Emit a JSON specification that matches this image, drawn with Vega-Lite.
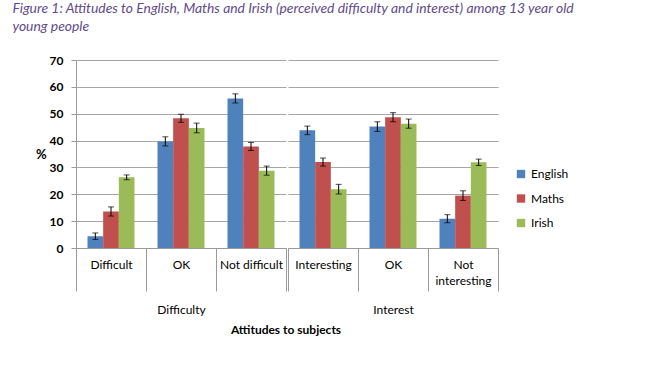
{
  "$schema": "https://vega.github.io/schema/vega-lite/v6.json",
  "padding": {"left": 12, "top": 2, "right": 5, "bottom": 5},
  "background": "white",
  "title": {
    "text": ["Figure 1: Attitudes to English, Maths and Irish (perceived difficulty and interest) among 13 year old", "young people"],
    "anchor": "start",
    "frame": "bounds",
    "dx": -23,
    "font": "Lato",
    "fontStyle": "italic",
    "fontWeight": "normal",
    "fontSize": 13.9,
    "lineHeight": 18,
    "color": "#5f4b8b",
    "offset": 20
  },
  "datasets": {
    "main": [
      {"group": "Difficulty", "cat": "Difficult", "subject": "English", "value": 4.4, "lo": 3.2, "hi": 5.6},
      {"group": "Difficulty", "cat": "Difficult", "subject": "Maths", "value": 13.6, "lo": 11.9, "hi": 15.3},
      {"group": "Difficulty", "cat": "Difficult", "subject": "Irish", "value": 26.3, "lo": 25.4, "hi": 27.2},
      {"group": "Difficulty", "cat": "OK", "subject": "English", "value": 39.7, "lo": 38.0, "hi": 41.4},
      {"group": "Difficulty", "cat": "OK", "subject": "Maths", "value": 48.3, "lo": 46.8, "hi": 49.8},
      {"group": "Difficulty", "cat": "OK", "subject": "Irish", "value": 44.7, "lo": 42.9, "hi": 46.5},
      {"group": "Difficulty", "cat": "Not difficult", "subject": "English", "value": 55.7, "lo": 54.0, "hi": 57.4},
      {"group": "Difficulty", "cat": "Not difficult", "subject": "Maths", "value": 37.8, "lo": 36.3, "hi": 39.3},
      {"group": "Difficulty", "cat": "Not difficult", "subject": "Irish", "value": 28.8, "lo": 27.1, "hi": 30.5},
      {"group": "Interest", "cat": "Interesting", "subject": "English", "value": 43.8, "lo": 42.2, "hi": 45.4},
      {"group": "Interest", "cat": "Interesting", "subject": "Maths", "value": 32.0, "lo": 30.5, "hi": 33.5},
      {"group": "Interest", "cat": "Interesting", "subject": "Irish", "value": 21.9, "lo": 20.1, "hi": 23.7},
      {"group": "Interest", "cat": "OK", "subject": "English", "value": 45.2, "lo": 43.4, "hi": 47.0},
      {"group": "Interest", "cat": "OK", "subject": "Maths", "value": 48.7, "lo": 47.0, "hi": 50.4},
      {"group": "Interest", "cat": "OK", "subject": "Irish", "value": 46.3, "lo": 44.6, "hi": 48.0},
      {"group": "Interest", "cat": "Not interesting", "subject": "English", "value": 10.9, "lo": 9.4, "hi": 12.4},
      {"group": "Interest", "cat": "Not interesting", "subject": "Maths", "value": 19.5, "lo": 17.7, "hi": 21.3},
      {"group": "Interest", "cat": "Not interesting", "subject": "Irish", "value": 31.9, "lo": 30.7, "hi": 33.1}
    ],
    "caption": [{"t": "Attitudes to subjects"}]
  },
  "vconcat": [
    {
      "hconcat": [
        {
          "data": {"name": "main"},
          "transform": [{"filter": "datum.group == 'Difficulty'"}],
          "width": 210,
          "height": 188,
          "encoding": {
            "x": {
              "field": "cat",
              "type": "nominal",
              "sort": ["Difficult", "OK", "Not difficult"],
              "title": "Difficulty",
              "scale": {"type": "band", "paddingInner": 0, "paddingOuter": 0},
              "axis": {
                "tickBand": "extent",
                "tickSize": 43,
                "labelPadding": -32,
                "labelAngle": 0,
                "labelFontSize": 12,
                "labelBaseline": "top",
                "labelLineHeight": 16,
                "labelOverlap": false,
                "titleFontSize": 12,
                "titleFontWeight": "normal",
                "titlePadding": 13,
                "grid": false
              }
            },
            "xOffset": {
              "field": "subject",
              "type": "nominal",
              "sort": ["English", "Maths", "Irish"],
              "scale": {"paddingInner": 0, "paddingOuter": 0.734}
            }
          },
          "layer": [
            {
              "mark": {"type": "bar"},
              "encoding": {
                "y": {
                  "field": "value",
                  "type": "quantitative",
                  "title": "%",
                  "scale": {"domain": [0, 70], "nice": false},
                  "axis": {
                    "values": [0, 10, 20, 30, 40, 50, 60, 70],
                    "tickCount": 10,
                    "labelOverlap": false,
                    "titleAngle": 0,
                    "titleAlign": "right",
                    "titleBaseline": "middle",
                    "titleFontSize": 13,
                    "titleFontWeight": "bold",
                    "titlePadding": 3,
                    "labelFontSize": 12,
                    "labelFontWeight": "bold",
                    "labelPadding": 8,
                    "tickSize": 5,
                    "grid": true
                  }
                },
                "color": {
                  "field": "subject",
                  "type": "nominal",
                  "scale": {"domain": ["English", "Maths", "Irish"], "range": ["#4f81bd", "#c0504d", "#9bbb59"]},
                  "legend": {
                    "title": null,
                    "orient": "none",
                    "legendX": 439,
                    "legendY": 108,
                    "symbolType": "square",
                    "symbolSize": 70,
                    "symbolStrokeWidth": 0,
                    "labelFont": "Lato",
                    "labelFontSize": 12,
                    "labelColor": "#000",
                    "rowPadding": 12.5
                  }
                }
              }
            },
            {
              "mark": {"type": "rule", "color": "#000", "strokeWidth": 1},
              "encoding": {
                "y": {
                  "field": "lo",
                  "type": "quantitative",
                  "title": "%",
                  "scale": {"domain": [0, 70], "nice": false},
                  "axis": {
                    "values": [0, 10, 20, 30, 40, 50, 60, 70],
                    "tickCount": 10,
                    "labelOverlap": false,
                    "titleAngle": 0,
                    "titleAlign": "right",
                    "titleBaseline": "middle",
                    "titleFontSize": 13,
                    "titleFontWeight": "bold",
                    "titlePadding": 3,
                    "labelFontSize": 12,
                    "labelFontWeight": "bold",
                    "labelPadding": 8,
                    "tickSize": 5,
                    "grid": true
                  }
                },
                "y2": {"field": "hi"}
              }
            },
            {
              "mark": {"type": "tick", "color": "#000", "thickness": 1, "size": 6},
              "encoding": {
                "y": {
                  "field": "lo",
                  "type": "quantitative",
                  "title": "%",
                  "scale": {"domain": [0, 70], "nice": false},
                  "axis": {
                    "values": [0, 10, 20, 30, 40, 50, 60, 70],
                    "tickCount": 10,
                    "labelOverlap": false,
                    "titleAngle": 0,
                    "titleAlign": "right",
                    "titleBaseline": "middle",
                    "titleFontSize": 13,
                    "titleFontWeight": "bold",
                    "titlePadding": 3,
                    "labelFontSize": 12,
                    "labelFontWeight": "bold",
                    "labelPadding": 8,
                    "tickSize": 5,
                    "grid": true
                  }
                }
              }
            },
            {
              "mark": {"type": "tick", "color": "#000", "thickness": 1, "size": 6},
              "encoding": {
                "y": {
                  "field": "hi",
                  "type": "quantitative",
                  "title": "%",
                  "scale": {"domain": [0, 70], "nice": false},
                  "axis": {
                    "values": [0, 10, 20, 30, 40, 50, 60, 70],
                    "tickCount": 10,
                    "labelOverlap": false,
                    "titleAngle": 0,
                    "titleAlign": "right",
                    "titleBaseline": "middle",
                    "titleFontSize": 13,
                    "titleFontWeight": "bold",
                    "titlePadding": 3,
                    "labelFontSize": 12,
                    "labelFontWeight": "bold",
                    "labelPadding": 8,
                    "tickSize": 5,
                    "grid": true
                  }
                }
              }
            }
          ]
        },
        {
          "data": {"name": "main"},
          "transform": [{"filter": "datum.group == 'Interest'"}],
          "width": 210,
          "height": 188,
          "encoding": {
            "x": {
              "field": "cat",
              "type": "nominal",
              "sort": ["Interesting", "OK", "Not interesting"],
              "title": "Interest",
              "scale": {"type": "band", "paddingInner": 0, "paddingOuter": 0},
              "axis": {
                "tickBand": "extent",
                "tickSize": 43,
                "labelPadding": -32,
                "labelAngle": 0,
                "labelFontSize": 12,
                "labelBaseline": "top",
                "labelLineHeight": 16,
                "labelOverlap": false,
                "labelExpr": "datum.label == 'Not interesting' ? ['Not', 'interesting'] : datum.label",
                "titleFontSize": 12,
                "titleFontWeight": "normal",
                "titlePadding": 13,
                "grid": false
              }
            },
            "xOffset": {
              "field": "subject",
              "type": "nominal",
              "sort": ["English", "Maths", "Irish"],
              "scale": {"paddingInner": 0, "paddingOuter": 0.734}
            }
          },
          "layer": [
            {
              "mark": {"type": "bar"},
              "encoding": {
                "y": {
                  "field": "value",
                  "type": "quantitative",
                  "title": null,
                  "scale": {"domain": [0, 70], "nice": false},
                  "axis": {"values": [0, 10, 20, 30, 40, 50, 60, 70], "tickCount": 10, "labels": false, "ticks": false, "domain": false, "grid": true}
                },
                "color": {
                  "field": "subject",
                  "type": "nominal",
                  "scale": {"domain": ["English", "Maths", "Irish"], "range": ["#4f81bd", "#c0504d", "#9bbb59"]}
                }
              }
            },
            {
              "mark": {"type": "rule", "color": "#000", "strokeWidth": 1},
              "encoding": {
                "y": {
                  "field": "lo",
                  "type": "quantitative",
                  "title": null,
                  "scale": {"domain": [0, 70], "nice": false},
                  "axis": {"values": [0, 10, 20, 30, 40, 50, 60, 70], "tickCount": 10, "labels": false, "ticks": false, "domain": false, "grid": true}
                },
                "y2": {"field": "hi"}
              }
            },
            {
              "mark": {"type": "tick", "color": "#000", "thickness": 1, "size": 6},
              "encoding": {
                "y": {
                  "field": "lo",
                  "type": "quantitative",
                  "title": null,
                  "scale": {"domain": [0, 70], "nice": false},
                  "axis": {"values": [0, 10, 20, 30, 40, 50, 60, 70], "tickCount": 10, "labels": false, "ticks": false, "domain": false, "grid": true}
                }
              }
            },
            {
              "mark": {"type": "tick", "color": "#000", "thickness": 1, "size": 6},
              "encoding": {
                "y": {
                  "field": "hi",
                  "type": "quantitative",
                  "title": null,
                  "scale": {"domain": [0, 70], "nice": false},
                  "axis": {"values": [0, 10, 20, 30, 40, 50, 60, 70], "tickCount": 10, "labels": false, "ticks": false, "domain": false, "grid": true}
                }
              }
            }
          ]
        }
      ],
      "spacing": 0,
      "resolve": {"scale": {"x": "independent", "xOffset": "independent"}}
    },
    {
      "data": {"name": "caption"},
      "width": 420,
      "height": 14,
      "mark": {"type": "text", "font": "Lato", "fontSize": 12, "fontWeight": "bold", "color": "#000"},
      "encoding": {"text": {"field": "t", "type": "nominal"}}
    }
  ],
  "spacing": 7,
  "config": {
    "font": "Lato",
    "view": {"stroke": null},
    "axis": {
      "labelFont": "Lato",
      "titleFont": "Lato",
      "labelColor": "#000",
      "titleColor": "#000",
      "domainColor": "#9a9a9a",
      "tickColor": "#9a9a9a",
      "gridColor": "#a6a6a6",
      "gridOpacity": 1
    }
  }
}
